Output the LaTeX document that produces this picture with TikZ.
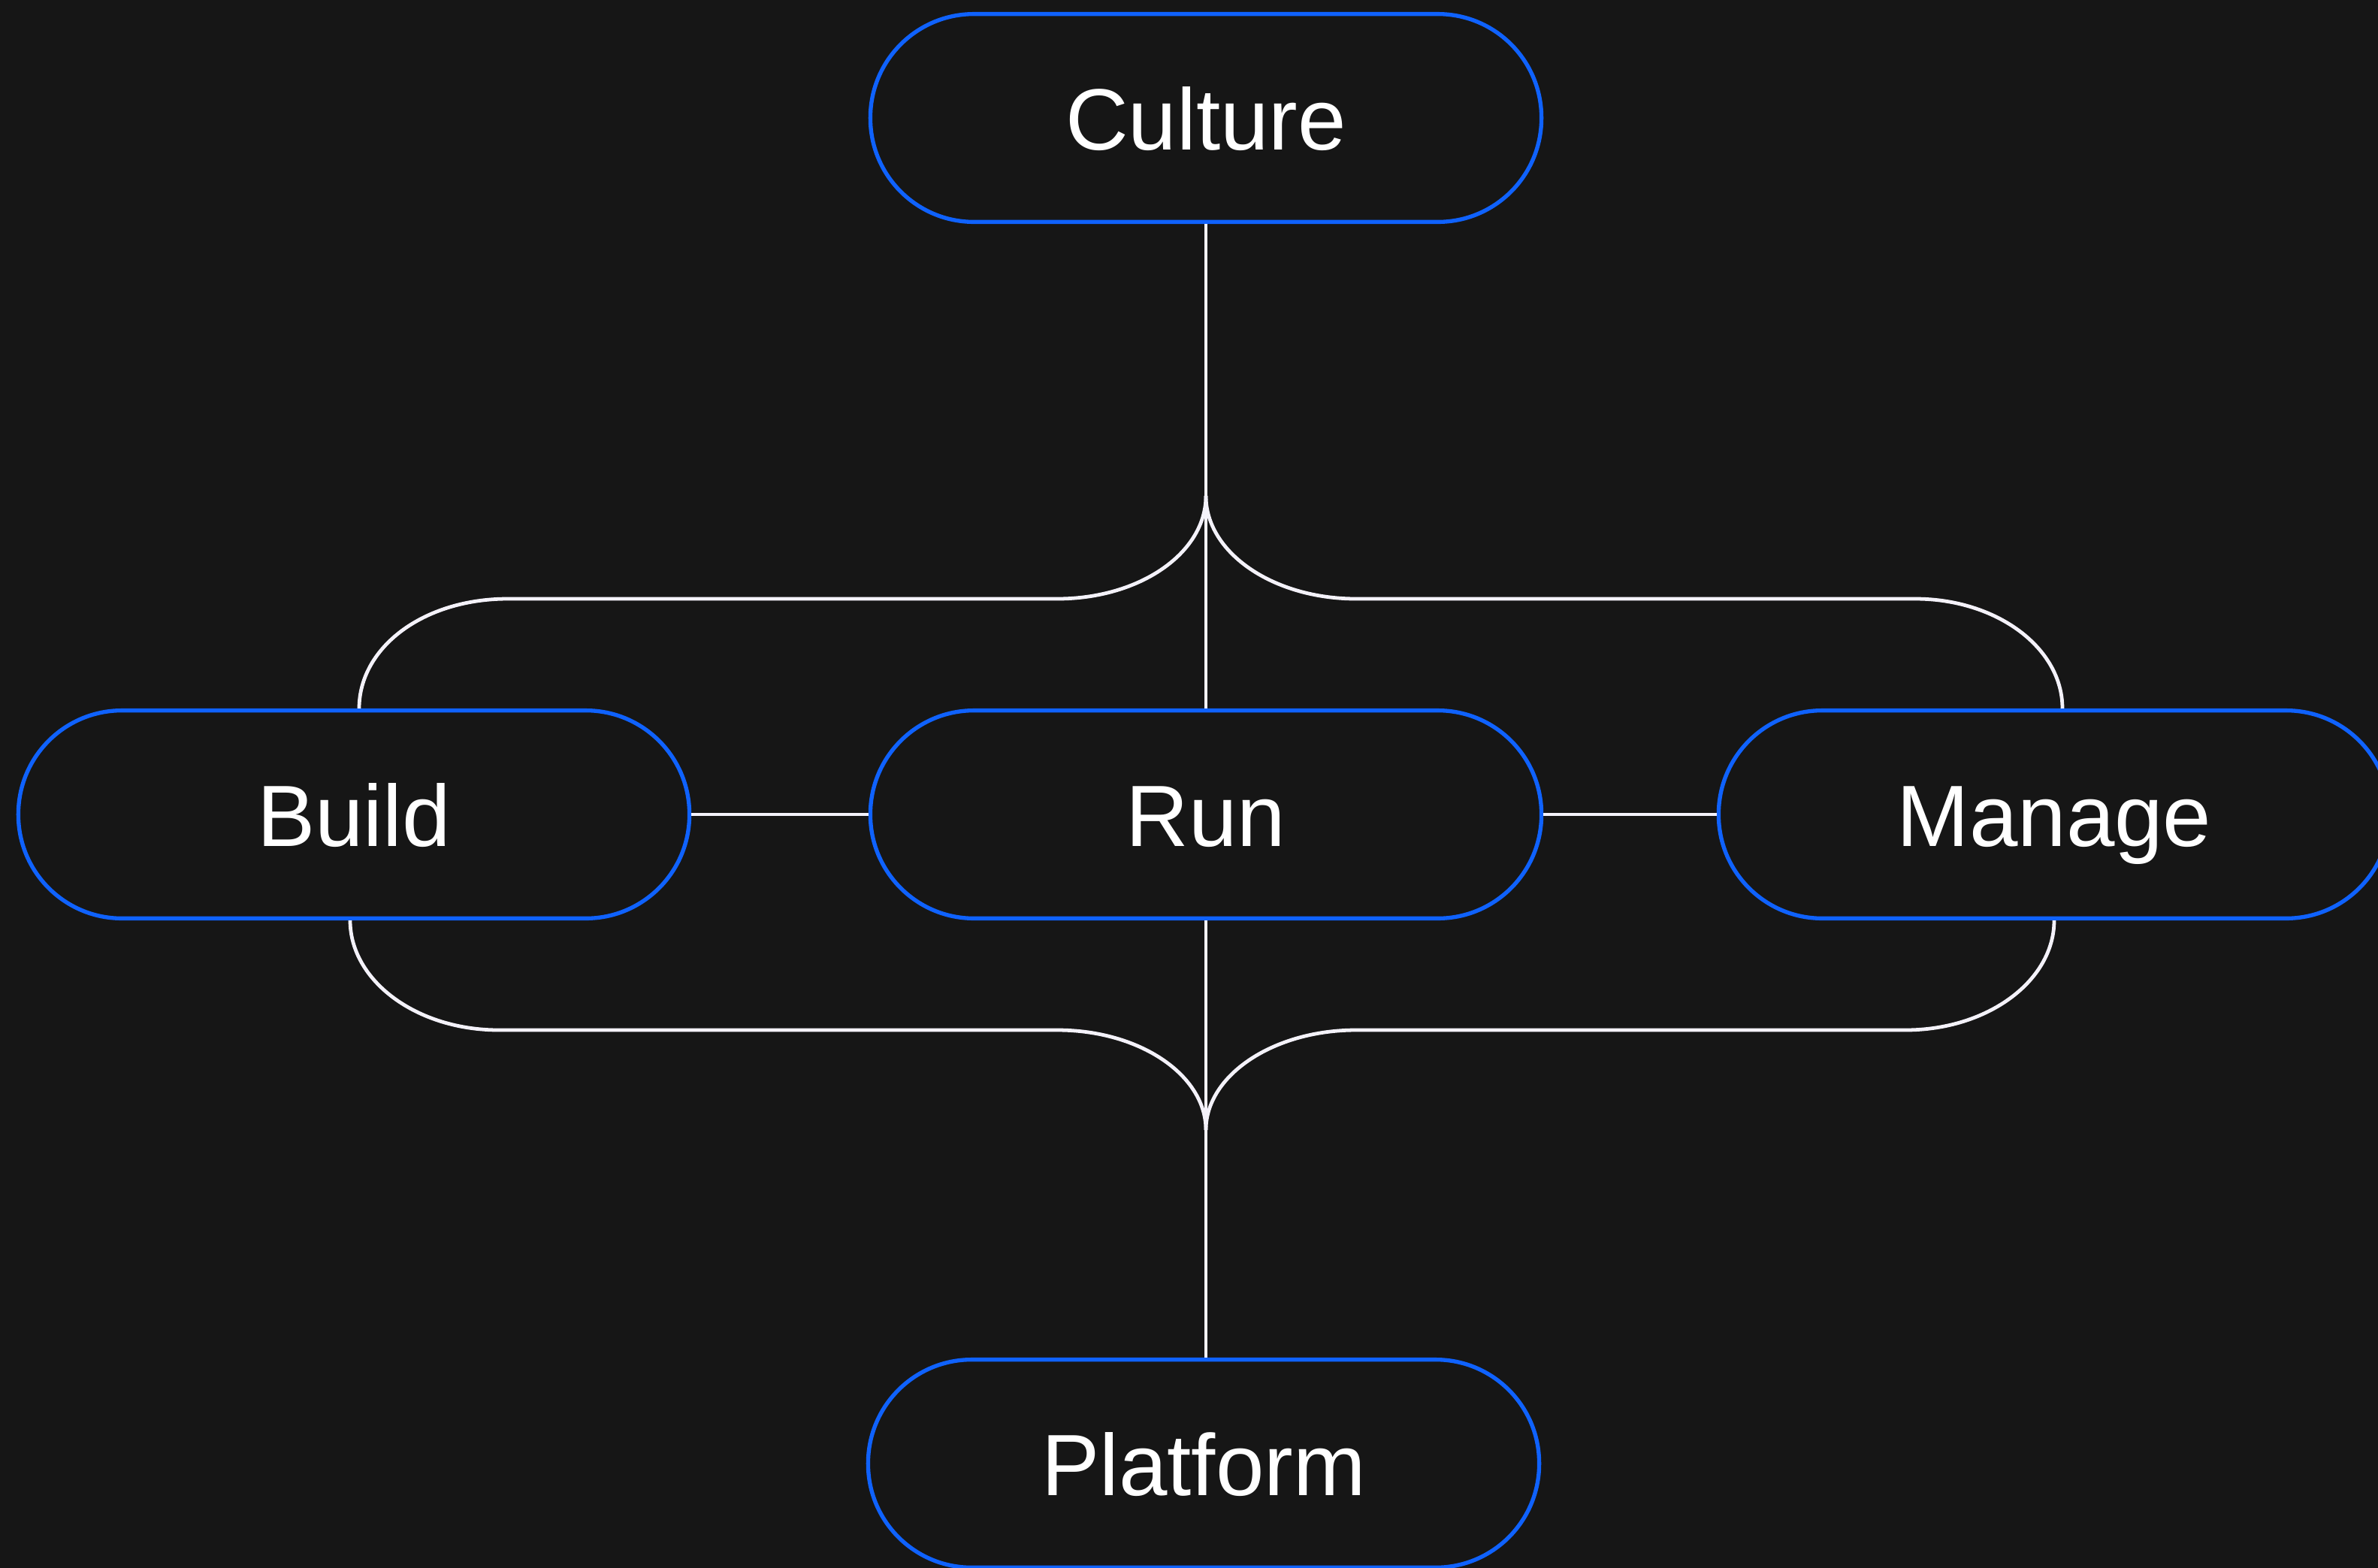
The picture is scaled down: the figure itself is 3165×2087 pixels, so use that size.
\documentclass[tikz,border=0pt]{standalone}
\usepackage{fontspec}
\setmainfont{Liberation Sans}
\definecolor{canvas}{HTML}{161616}
\definecolor{pillblue}{HTML}{0F62FE}
\definecolor{linkwhite}{HTML}{F4F2FA}
\begin{document}
\begin{tikzpicture}[x=0.005cm, y=-0.005cm,
        pill/.style={draw=pillblue, line width=0.76pt, fill=canvas, rectangle,
            rounded corners=0.69cm, minimum width=4.47cm, minimum height=1.385cm,
            text=white, font=\fontsize{16.5}{20}\selectfont,
            text height=12pt, text depth=0pt, inner sep=0pt},
        link/.style={draw=linkwhite, line width=0.68pt},
        ]
        \fill[canvas] (0,0) rectangle (3165,2087);
        \useasboundingbox (0,0) rectangle (3165,2087);
        \node[pill] (culture) at (1605,157) {Culture};
        \node[pill] (build) at (471,1084) {Build};
        \node[pill] (run) at (1605,1084) {Run};
        \node[pill] (manage) at (2734,1084) {Manage};
        \node[pill] (platform) at (1602,1948) {Platform};
        \coordinate (topjoin) at (1605,660);
        \coordinate (botjoin) at (1605,1504);
        % upper fork
        \draw[link] (culture) -- (topjoin);
        \draw[link] (topjoin) -- (run);
        \draw[link] (topjoin) .. controls +(0,76) and +(110,0) .. (1407,797)
            -- (676,797) .. controls +(-113,0) and +(0,-81) .. ([xshift=0.035cm]build.north);
        \draw[link] (topjoin) .. controls +(0,76) and +(-110,0) .. (1805,797)
            -- (2549,797) .. controls +(108,0) and +(0,-81) .. ([xshift=0.055cm]manage.north);
        % side links
        \draw[link] (build) -- (run);
        \draw[link] (run) -- (manage);
        % lower fork
        \draw[link] (run) -- (botjoin);
        \draw[link] (botjoin) -- (botjoin |- platform.north);
        \draw[link] ([xshift=-0.025cm]build.south) .. controls +(0,80) and +(-110,0) .. (664,1371)
            -- (1407,1371) .. controls +(110,0) and +(0,-73) .. (botjoin);
        \draw[link] (manage.south) .. controls +(0,80) and +(110,0) .. (2536,1371)
            -- (1805,1371) .. controls +(-110,0) and +(0,-73) .. (botjoin);
\end{tikzpicture}
\end{document}
